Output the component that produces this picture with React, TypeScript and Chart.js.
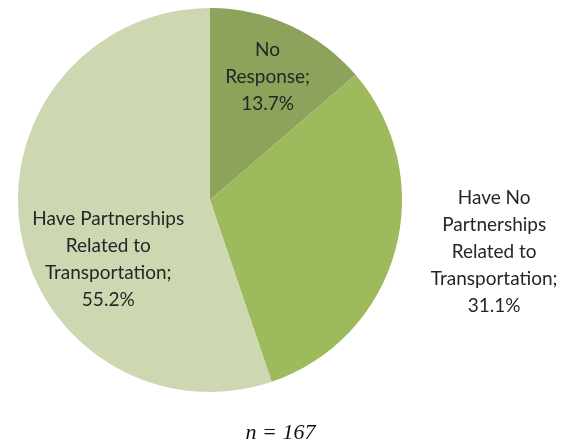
import React, { useEffect, useRef } from "react";
import { Chart, registerables } from "chart.js";

Chart.register(...registerables);

const categories = [
  "No Response",
  "Have No Partnerships Related to Transportation",
  "Have Partnerships Related to Transportation",
];
const values = [13.7, 31.1, 55.2];
const labelLines = [
  ["No", "Response;", "13.7%"],
  ["Have No", "Partnerships", "Related to", "Transportation;", "31.1%"],
  ["Have Partnerships", "Related to", "Transportation;", "55.2%"],
];
const colors = ["#8da25a", "#9dba5c", "#cdd8b3"];
const footnote = "n = 167";

// label anchor: offset relative to the pie center, in units of radius
const labelAnchors = [
  { fx: 0.3, fy: -0.64 },
  { fx: 1.48, fy: 0.27 },
  { fx: -0.53, fy: 0.31 },
];

const labelPlugin = {
  id: "pieLabels",
  afterDraw(chart: any) {
    const ctx = chart.ctx;
    const meta = chart.getDatasetMeta(0);
    ctx.save();
    ctx.fillStyle = "#262626";
    ctx.font = "19px Lato, 'Open Sans', sans-serif";
    ctx.textAlign = "center";
    ctx.textBaseline = "middle";
    const lh = 27;
    meta.data.forEach((arc: any, i: number) => {
      const r = arc.outerRadius;
      const cx = arc.x + labelAnchors[i].fx * r;
      const cy = arc.y + labelAnchors[i].fy * r;
      const lines = labelLines[i];
      const start = cy - ((lines.length - 1) * lh) / 2;
      lines.forEach((ln, k) => ctx.fillText(ln, cx, start + k * lh));
    });
    ctx.font = "italic 22px 'Liberation Serif', 'Times New Roman', serif";
    ctx.fillStyle = "#111";
    ctx.fillText(footnote, chart.width / 2, 433);
    ctx.restore();
  },
};

export default function App() {
  const ref = useRef<HTMLCanvasElement>(null);
  useEffect(() => {
    document.body.style.margin = "0";
    const chart = new Chart(ref.current!, {
      type: "pie",
      data: {
        labels: categories,
        datasets: [
          {
            data: values,
            backgroundColor: colors,
            borderWidth: 0,
          },
        ],
      },
      options: {
        responsive: false,
        animation: false,
        layout: { padding: { left: 18, right: 159, top: 8, bottom: 53 } },
        plugins: { legend: { display: false }, tooltip: { enabled: false } },
      },
      plugins: [labelPlugin],
    });
    return () => chart.destroy();
  }, []);
  return <canvas ref={ref} width={561} height={445} style={{ display: "block" }} />;
}
